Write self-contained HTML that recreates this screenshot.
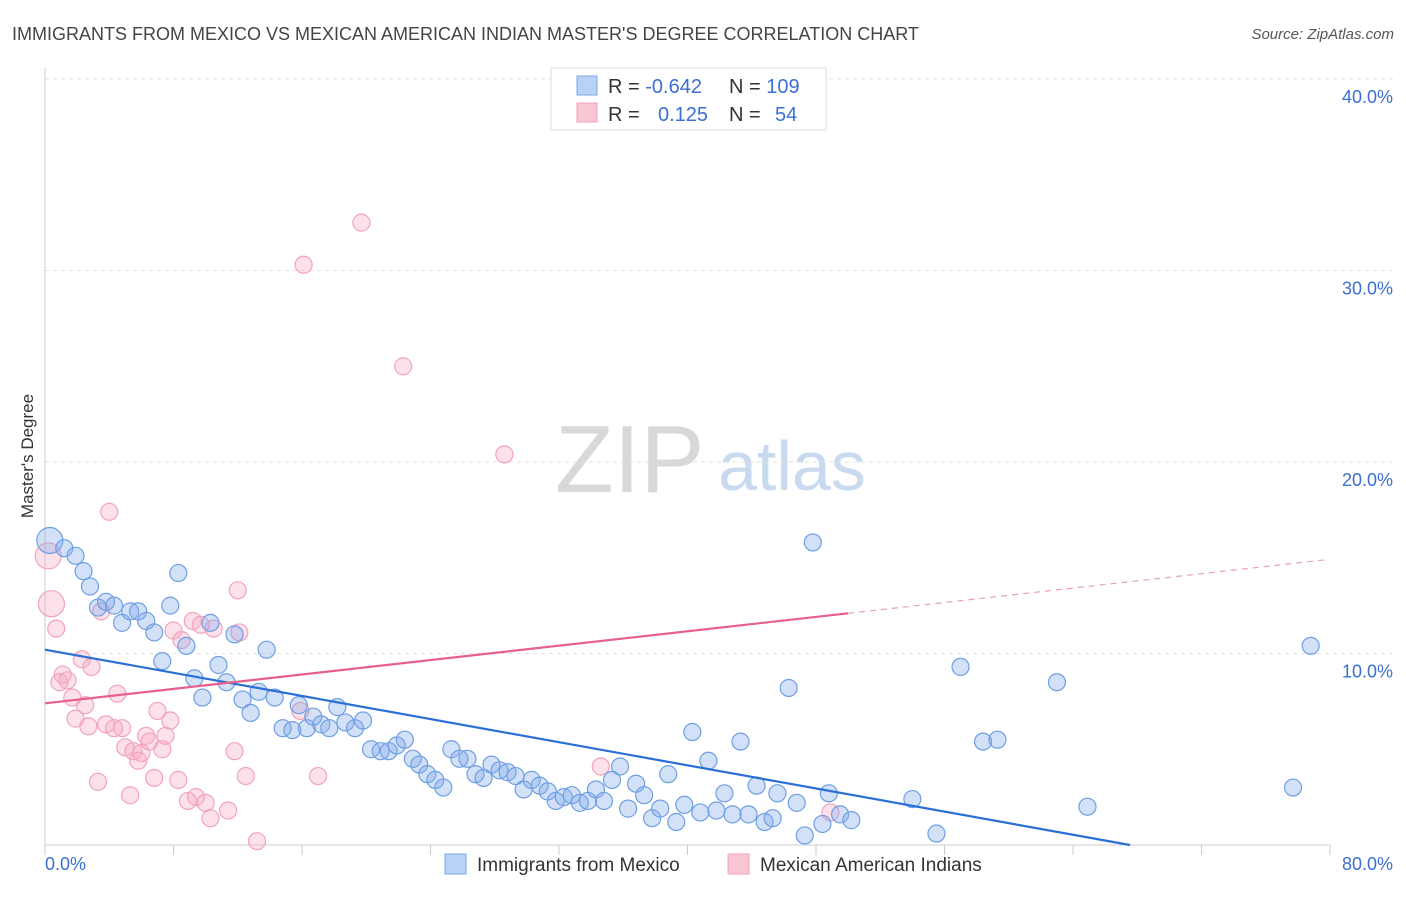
<!DOCTYPE html>
<html><head><meta charset="utf-8"><style>
body{margin:0;background:#fff;font-family:"Liberation Sans",sans-serif}
svg text{font-family:"Liberation Sans",sans-serif}
</style></head><body>
<svg id="chart" width="1406" height="892" xmlns="http://www.w3.org/2000/svg">
<text x="12" y="40" font-size="18" fill="#444">IMMIGRANTS FROM MEXICO VS MEXICAN AMERICAN INDIAN MASTER'S DEGREE CORRELATION CHART</text>
<text x="1394" y="39" font-size="15" fill="#555" text-anchor="end" font-style="italic">Source: ZipAtlas.com</text>
<g>
<text x="555" y="492" font-size="96" fill="#d8d8d8" font-family="Liberation Serif,serif">ZIP</text>
<text x="718" y="490" font-size="70" fill="#c9daf0">atlas</text>
</g>
<g id="grid"></g>
<g id="axes"></g>
<g id="pink"></g>
<g id="blue"></g>
<g id="lines"></g>
<text transform="translate(33,456) rotate(-90)" font-size="17" fill="#333" text-anchor="middle">Master's Degree</text>
<g>
<rect x="551" y="68" width="275" height="62" fill="#fff" stroke="#ddd"/>
<rect x="577" y="76" width="20" height="19" fill="#b9d1f5" stroke="#7aa6e6"/>
<rect x="577" y="103" width="20" height="19" fill="#f9c6d4" stroke="#f2a3ba"/>
<text x="608" y="93" font-size="20" fill="#333">R = <tspan fill="#3b6fd4">-0.642</tspan></text>
<text x="729" y="93" font-size="20" fill="#333">N = <tspan fill="#3b6fd4">109</tspan></text>
<text x="608" y="121" font-size="20" fill="#333">R = <tspan fill="#3b6fd4" x="658">0.125</tspan></text>
<text x="729" y="121" font-size="20" fill="#333">N = <tspan fill="#3b6fd4" x="775">54</tspan></text>
</g>
<g>
<rect x="445" y="854" width="21" height="20" fill="#b9d1f5" stroke="#7aa6e6"/>
<text x="477" y="871" font-size="19" fill="#333">Immigrants from Mexico</text>
<rect x="728" y="854" width="21" height="20" fill="#f9c6d4" stroke="#f2a3ba"/>
<text x="760" y="871" font-size="19" fill="#333">Mexican American Indians</text>
</g>
</svg>
<script>
const yTicks=[10,20,30,40];
const xTickLabels=["0.0%","80.0%"];
const blueX=[0.3,1.2,1.9,2.4,2.8,3.3,3.8,4.3,4.8,5.3,5.8,6.3,6.8,7.3,7.8,8.3,8.8,9.3,9.8,10.3,10.8,11.3,11.8,12.3,12.8,13.3,13.8,14.3,14.8,15.4,15.8,16.3,16.7,17.2,17.7,18.2,18.7,19.3,19.8,20.3,20.9,21.4,21.9,22.4,22.9,23.3,23.8,24.3,24.8,25.3,25.8,26.3,26.8,27.3,27.8,28.3,28.8,29.3,29.8,30.3,30.8,31.3,31.8,32.3,32.8,33.3,33.8,34.3,34.8,35.3,35.8,36.3,36.8,37.3,37.8,38.3,38.8,39.3,39.8,40.3,40.8,41.3,41.8,42.3,42.8,43.3,43.8,44.3,44.8,45.3,45.6,46.3,46.8,47.3,47.8,48.4,48.8,49.5,50.2,54.0,55.5,57.0,58.4,59.3,63.0,64.9,77.7,78.8];
const blueY=[15.9,15.5,15.1,14.3,13.5,12.4,12.7,12.5,11.6,12.2,12.2,11.7,11.1,9.6,12.5,14.2,10.4,8.7,7.7,11.6,9.4,8.5,11.0,7.6,6.9,8.0,10.2,7.7,6.1,6.0,7.3,6.1,6.7,6.3,6.1,7.2,6.4,6.1,6.5,5.0,4.9,4.9,5.2,5.5,4.5,4.2,3.7,3.4,3.0,5.0,4.5,4.5,3.7,3.5,4.2,3.9,3.8,3.6,2.9,3.4,3.1,2.8,2.3,2.5,2.6,2.2,2.3,2.9,2.3,3.4,4.1,1.9,3.2,2.6,1.4,1.9,3.7,1.2,2.1,5.9,1.7,4.4,1.8,2.7,1.6,5.4,1.6,3.1,1.2,1.4,2.7,8.2,2.2,0.5,15.8,1.1,2.7,1.6,1.3,2.4,0.6,9.3,5.4,5.5,8.5,2.0,3.0,10.4];
const pinkX=[0.2,0.4,0.7,0.9,1.1,1.4,1.7,1.9,2.3,2.5,2.7,2.9,3.3,3.5,3.8,4.0,4.3,4.5,4.8,5.0,5.3,5.5,5.8,6.0,6.3,6.5,6.8,7.0,7.3,7.5,7.8,8.0,8.3,8.5,8.9,9.2,9.4,9.7,10.0,10.3,10.5,11.4,11.8,12.0,12.1,12.5,13.2,15.9,16.1,17.0,19.7,22.3,28.6,34.6,48.9];
const pinkY=[15.1,12.6,11.3,8.5,8.9,8.6,7.7,6.6,9.7,7.3,6.2,9.3,3.3,12.2,6.3,17.4,6.1,7.9,6.1,5.1,2.6,4.9,4.4,4.8,5.7,5.4,3.5,7.0,5.0,5.7,6.5,11.2,3.4,10.7,2.3,11.7,2.5,11.5,2.2,1.4,11.3,1.8,4.9,13.3,11.1,3.6,0.2,7.0,30.3,3.6,32.5,25.0,20.4,4.1,1.7];
const blueTrend=[10.2,-0.151];
const pinkTrend=[7.4,0.094];
const NS="http://www.w3.org/2000/svg";
const X0=45,X1=1330,Y0=845,Y40=79;
const sx=v=>X0+(X1-X0)*v/80;
const sy=v=>Y0-(Y0-Y40)*v/40;
function mk(tag,attrs,parent){const e=document.createElementNS(NS,tag);for(const k in attrs)e.setAttribute(k,attrs[k]);parent.appendChild(e);return e;}
const grid=document.getElementById('grid'),axes=document.getElementById('axes');
yTicks.forEach(t=>{
 const l=mk('line',{x1:X0,x2:1393,y1:sy(t),y2:sy(t),stroke:'#e2e2e2','stroke-dasharray':'4,4'},grid);
 
 
 const tx=mk('text',{x:1393,y:sy(t)+24,'font-size':18,fill:'#3b6fd4','text-anchor':'end'},axes);
 tx.textContent=t.toFixed(1)+'%';
 
 
});
mk('line',{x1:X0,x2:X0,y1:68,y2:Y0,stroke:'#ccc'},axes);
mk('line',{x1:X0,x2:X1,y1:Y0,y2:Y0,stroke:'#ccc'},axes);
for(let i=0;i<=10;i++){const l=mk('line',{x1:sx(i*8),x2:sx(i*8),y1:Y0,y2:Y0+10,stroke:'#ccc'},axes);
 
 }
const xl0=mk('text',{x:45,y:870,'font-size':18,fill:'#3b6fd4'},axes);xl0.textContent=xTickLabels[0];


const xl1=mk('text',{x:1393,y:870,'font-size':18,fill:'#3b6fd4','text-anchor':'end'},axes);xl1.textContent=xTickLabels[1];


function dots(xs,ys,g,fill,stroke,name){xs.forEach((x,i)=>{
 const r=(i<2&&x<1)?13:8.5;
 const c=mk('circle',{cx:sx(x),cy:sy(ys[i]),r:r,fill:fill,stroke:stroke,'stroke-width':1.2},g);
 
 
});}
dots(pinkX,pinkY,document.getElementById('pink'),'rgba(246,170,195,0.35)','#f2a3ba','pink-point');
dots(blueX,blueY,document.getElementById('blue'),'rgba(130,170,235,0.35)','#6e9fe3','blue-point');
const lg=document.getElementById('lines');
const bxEnd=-blueTrend[0]/blueTrend[1];
const bl=mk('line',{x1:sx(0),y1:sy(blueTrend[0]),x2:sx(bxEnd),y2:sy(0),stroke:'#2a6fd6','stroke-width':2.2},lg);


const pl=mk('line',{x1:sx(0),y1:sy(pinkTrend[0]),x2:sx(50),y2:sy(pinkTrend[0]+pinkTrend[1]*50),stroke:'#e8608a','stroke-width':2.2},lg);


const pd=mk('line',{x1:sx(50),y1:sy(pinkTrend[0]+pinkTrend[1]*50),x2:sx(79.7),y2:sy(pinkTrend[0]+pinkTrend[1]*79.7),stroke:'#e8a0b5','stroke-width':1.2,'stroke-dasharray':'6,5'},lg);


</script>
</body></html>
